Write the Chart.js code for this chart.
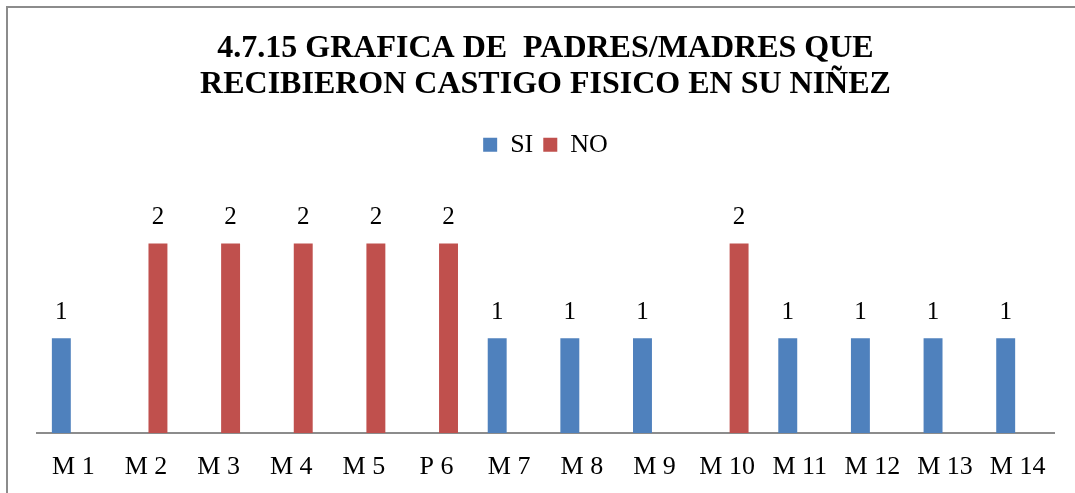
<!DOCTYPE html>
<html>
<head>
<meta charset="utf-8">
<script src="https://cdn.jsdelivr.net/npm/chart.js@4.4.1/dist/chart.umd.min.js"></script>
<style>
  html, body { margin: 0; padding: 0; background: #fff; overflow: hidden; }
  #wrap { position: relative; width: 1075px; height: 493px; }
  #frame { position: absolute; left: 6px; top: 6px; width: 1200px; height: 600px;
           border-left: 2px solid #8c8c8c; border-top: 2px solid #8c8c8c; box-sizing: border-box; pointer-events: none; }
  canvas { position: absolute; left: 0; top: 0; }
</style>
</head>
<body>
<div id="wrap">
  <canvas id="c" width="1075" height="493"></canvas>
  <div id="frame"></div>
</div>
<script>
const categories = ['M 1','M 2','M 3','M 4','M 5','P 6','M 7','M 8','M 9','M 10','M 11','M 12','M 13','M 14'];
const siValues = [1, null, null, null, null, null, 1, 1, 1, null, 1, 1, 1, 1];
const noValues = [null, 2, 2, 2, 2, 2, null, null, null, 2, null, null, null, null];
const seriesNames = ['SI', 'NO'];
const titleLines = ['4.7.15 GRAFICA DE  PADRES/MADRES QUE', 'RECIBIERON CASTIGO FISICO EN SU NIÑEZ'];

const FONT = '"Liberation Serif", "Times New Roman", serif';

const valueLabels = {
  id: 'valueLabels',
  afterDatasetsDraw(chart) {
    const ctx = chart.ctx;
    ctx.save();
    ctx.font = '25px ' + FONT;
    ctx.fillStyle = '#000';
    ctx.textAlign = 'center';
    ctx.textBaseline = 'middle';
    chart.data.datasets.forEach((ds, i) => {
      const meta = chart.getDatasetMeta(i);
      meta.data.forEach((bar, j) => {
        const v = ds.data[j];
        if (v === null || v === undefined) return;
        ctx.fillText(String(v), bar.x, bar.y - 26);
      });
    });
    ctx.restore();
  }
};

new Chart(document.getElementById('c'), {
  type: 'bar',
  data: {
    labels: categories,
    datasets: [
      { label: seriesNames[0], data: siValues, backgroundColor: '#4F81BD', borderWidth: 0 },
      { label: seriesNames[1], data: noValues, backgroundColor: '#C0504D', borderWidth: 0 }
    ]
  },
  options: {
    responsive: false,
    devicePixelRatio: 1,
    animation: false,
    categoryPercentage: 0.66,
    barPercentage: 0.79,
    layout: { padding: { left: 37, right: 21, top: 6, bottom: 0 } },
    plugins: {
      title: {
        display: true,
        text: titleLines,
        color: '#000',
        font: { family: FONT, size: 32, weight: 'bold', lineHeight: 1.12 },
        padding: { top: 25, bottom: 19 }
      },
      legend: {
        display: true,
        position: 'top',
        labels: {
          color: '#000',
          font: { family: FONT, size: 26 },
          boxWidth: 14,
          boxHeight: 14,
          padding: 10
        }
      },
      tooltip: { enabled: false }
    },
    scales: {
      x: {
        grid: { display: false, drawTicks: false },
        border: { display: true, color: '#8c8c8c', width: 2 },
        ticks: { color: '#000', font: { family: FONT, size: 26 }, padding: 19, maxRotation: 0, autoSkip: false },
        afterFit(scale) { scale.height = 60; }
      },
      y: {
        display: false,
        min: 0,
        max: 2.8
      }
    }
  },
  plugins: [valueLabels]
});
</script>
</body>
</html>
